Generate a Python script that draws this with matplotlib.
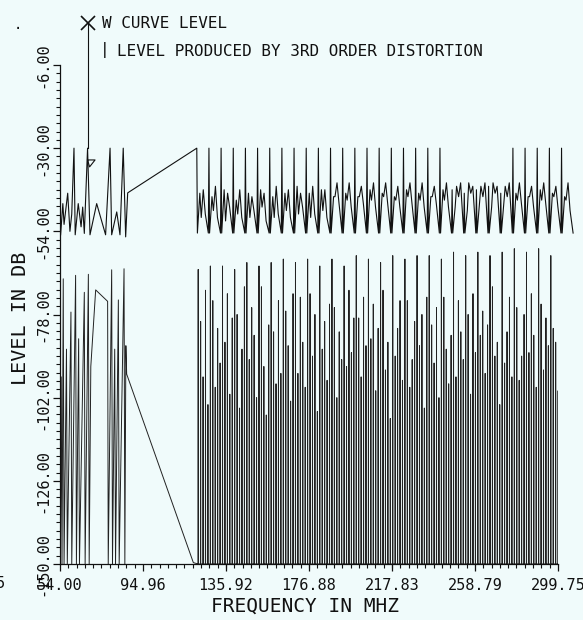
import numpy as np
import matplotlib.pyplot as plt

plt.rcParams['font.family'] = ['DejaVu Sans Mono']

# upper curve (W curve level), low band: frequency (MHz) and level (dB)
up_low_f = [54.3, 55.4, 56.0, 57.8, 58.9, 59.8, 60.9, 61.5, 63.0, 64.4, 65.2, 66.0,
            67.6, 68.8, 72.1, 76.5, 78.7, 79.5, 82.0, 83.6, 85.2, 86.4, 87.4]
up_low_db = [-55, -46, -52, -43, -54, -49, -30, -55, -46, -52.7, -47, -54.6,
             -30, -55, -46, -55, -30, -55, -48.4, -55, -30, -55.6, -42.9]

# upper curve, high band carriers and their levels
up_carriers = [121.5, 127.5, 133.5, 139.5, 145.5, 151.5, 157.5, 163.5, 169.5, 175.5,
               181.5, 187.5, 193.5, 199.5, 205.5, 211.5, 217.5, 223.5, 229.5, 235.5,
               241.5, 247.5, 253.5, 259.5, 265.5, 271.5, 277.5, 283.5, 289.5, 295.5, 301.5]
up_tops = [-30, -30, -30, -30, -30, -30, -30, -30, -30, -30,
           -30, -30, -30, -30, -30, -30, -30, -30, -30, -30,
           -30, -42, -43, -42, -41, -43, -30, -30, -30, -30, -30]
up_floor = -54.5
up_offsets = [0.3, 1.5, 2.2, 3.2, 4.2, 5.7]
# levels between carriers: peak, notch, peak, dip
up_rows = [
    [-43, -50, -42, -49], [-44, -48, -41, -50], [-42, -51, -43, -47], [-45, -49, -42, -50],
    [-43, -50, -44, -48], [-42, -47, -43, -51], [-44, -50, -41, -49], [-43, -48, -42, -50],
    [-41, -49, -43, -47], [-43, -50, -41, -49], [-42, -48, -42, -50], [-44, -44, -40, -46],
    [-43, -45, -40, -47], [-44, -44, -41, -46], [-42, -45, -40, -47], [-43, -44, -40, -46],
    [-44, -45, -41, -47], [-42, -44, -40, -46], [-43, -45, -40, -47], [-44, -44, -41, -46],
    [-42, -45, -40, -47], [-47, -41, -44, -40], [-48, -40, -43, -41], [-46, -41, -44, -40],
    [-47, -40, -43, -41], [-46, -41, -44, -40], [-43, -45, -40, -46], [-44, -44, -41, -47],
    [-42, -45, -40, -46], [-43, -44, -41, -47], [-44, -45, -40, -48],
]

# lower curve (3rd order distortion), low band
lo_low_f = [54.2, 54.6, 55.0, 55.6, 56.0, 57.2, 57.6, 59.4, 59.8, 61.7, 62.1, 63.2, 63.6,
            66.0, 66.4, 68.0, 68.4, 69.2, 71.6, 77.5, 77.8, 79.5, 79.9, 81.0, 81.4,
            82.8, 83.2, 85.6, 86.0, 86.5, 86.9, 119.8]
lo_low_db = [-150, -96, -150, -67.7, -150, -88, -150, -77.3, -150, -66.7, -150, -85, -150,
             -71.6, -150, -66.4, -150, -93, -70.9, -74.2, -150, -65.1, -150, -88, -150,
             -73.8, -150, -64.8, -150, -87, -95.2, -149.6]

lo_carriers = [122.2, 128.2, 134.2, 140.2, 146.2, 152.2, 158.2, 164.2, 170.2, 176.2,
               182.2, 188.2, 194.2, 200.2, 206.2, 212.2, 218.2, 224.2, 230.2, 236.2,
               242.2, 248.2, 254.2, 260.2, 266.2, 272.2, 278.2, 284.2, 290.2, 296.2]
lo_tops = [-65, -64, -64, -65, -63, -64, -63, -62, -63, -62,
           -64, -62, -64, -61, -62, -63, -61, -62, -61, -61,
           -62, -60, -61, -60, -61, -60, -59, -60, -59, -61]
lo_floor = -150
lo_offsets = [1.2, 2.4, 3.6, 4.8]
lo_rows = [
    [-80, -96, -71, -104], [-74, -99, -82, -92], [-86, -72, -101, -79],
    [-78, -105, -88, -70], [-91, -76, -84, -102], [-70, -93, -107, -81],
    [-83, -98, -74, -95], [-77, -87, -103, -72], [-95, -73, -86, -99],
    [-72, -90, -78, -106], [-88, -80, -97, -75], [-76, -102, -83, -91],
    [-93, -71, -89, -79], [-79, -96, -73, -87], [-85, -75, -100, -82],
    [-71, -94, -86, -108], [-90, -82, -74, -97], [-74, -99, -91, -80],
    [-87, -78, -105, -73], [-81, -92, -76, -102], [-73, -88, -98, -84],
    [-96, -74, -83, -91], [-78, -101, -72, -89], [-84, -77, -95, -81],
    [-70, -90, -86, -104], [-92, -83, -73, -96], [-76, -97, -90, -78],
    [-89, -72, -84, -99], [-75, -94, -79, -87], [-82, -86, -100, -74],
]

x_ticks = [54.00, 94.96, 135.92, 176.88, 217.83, 258.79, 299.75]
x_labels = ['54.00', '94.96', '135.92', '176.88', '217.83', '258.79', '299.75']
y_ticks = [-150, -126, -102, -78, -54, -30, -6]
y_labels = ['-150.00', '-126.00', '-102.00', '-78.00', '-54.00', '-30.00', '-6.00']

# marker of the W curve legend
mark_f, mark_top, mark_db = 67.6, 6.0, -33.4


def upper_trace():
    f, db = list(up_low_f), list(up_low_db)
    for c, top, row in zip(up_carriers, up_tops, up_rows):
        f += [c] + [c + o for o in up_offsets]
        db += [top, up_floor] + row + [up_floor]
    return f, db


def lower_trace():
    f, db = list(lo_low_f), list(lo_low_db)
    for c, top, row in zip(lo_carriers, lo_tops, lo_rows):
        for x, h in zip([c] + [c + o for o in lo_offsets], [top] + row):
            f += [x - 0.05, x, x + 0.05]
            db += [lo_floor, h, lo_floor]
    return f, db


bg = '#f0fbfb'
ink = '#111111'
W, H = 583, 620
fig = plt.figure(figsize=(W / 100, H / 100), dpi=100, facecolor=bg)
ax = fig.add_axes([60 / W, 1 - 564 / H, 498 / W, 499 / H])
ax.set_facecolor(bg)

uf, ud = upper_trace()
lf, ld = lower_trace()
ax.plot(lf, ld, color='#222222', lw=0.7)
ax.plot(uf, ud, color=ink, lw=0.8, clip_on=False)

# legend marker drawn on the trace
ax.plot([mark_f, mark_f], [mark_top, -30], color=ink, lw=0.8, clip_on=False)
ax.plot([mark_f], [mark_top], marker='x', ms=10, mew=1.2, color=ink, clip_on=False)
ax.plot([mark_f, mark_f + 3.7, mark_f + 1.0, mark_f],
        [mark_db, mark_db, mark_db - 2.0, mark_db], color=ink, lw=0.8, clip_on=False)

ax.set_xlim(54, 299.75)
ax.set_ylim(-150, -6)
ax.spines['top'].set_visible(False)
ax.spines['right'].set_visible(False)
for s in ['left', 'bottom']:
    ax.spines[s].set_color(ink)
    ax.spines[s].set_linewidth(0.9)

ax.set_xticks(x_ticks, x_labels, fontsize=11)
ax.set_yticks(y_ticks, y_labels, fontsize=11, rotation=90, va='center')
ax.set_xticks(np.linspace(54, 299.75, 61), minor=True)
ax.set_yticks(np.linspace(-150, -6, 61), minor=True)
ax.tick_params(which='major', direction='out', length=5, width=0.9, color=ink, labelcolor=ink)
ax.tick_params(which='minor', direction='out', length=3, width=0.8, color=ink)
ax.tick_params(axis='x', pad=5)
ax.tick_params(axis='y', pad=2)

fig.text(21 / W, 1 - 318 / H, 'LEVEL IN DB', rotation=90, ha='center', va='center',
         fontsize=14.5, color=ink)
fig.text(305 / W, 1 - 606 / H, 'FREQUENCY IN MHZ', ha='center', va='center',
         fontsize=14, color=ink)
fig.text(102 / W, 1 - 24 / H, 'W CURVE LEVEL', ha='left', va='center', fontsize=11.5, color=ink)
fig.text(100 / W, 1 - 50 / H, '|', ha='left', va='center', fontsize=11.5, color=ink)
fig.text(117 / W, 1 - 51 / H, 'LEVEL PRODUCED BY 3RD ORDER DISTORTION', ha='left', va='center',
         fontsize=11.5, color=ink)
fig.text(18 / W, 1 - 25 / H, '.', ha='center', va='center', fontsize=10, color=ink)
fig.text(-4 / W, 1 - 583 / H, '5', ha='left', va='center', fontsize=11, color=ink)

fig.savefig('out.png', dpi=100, facecolor=fig.get_facecolor())
